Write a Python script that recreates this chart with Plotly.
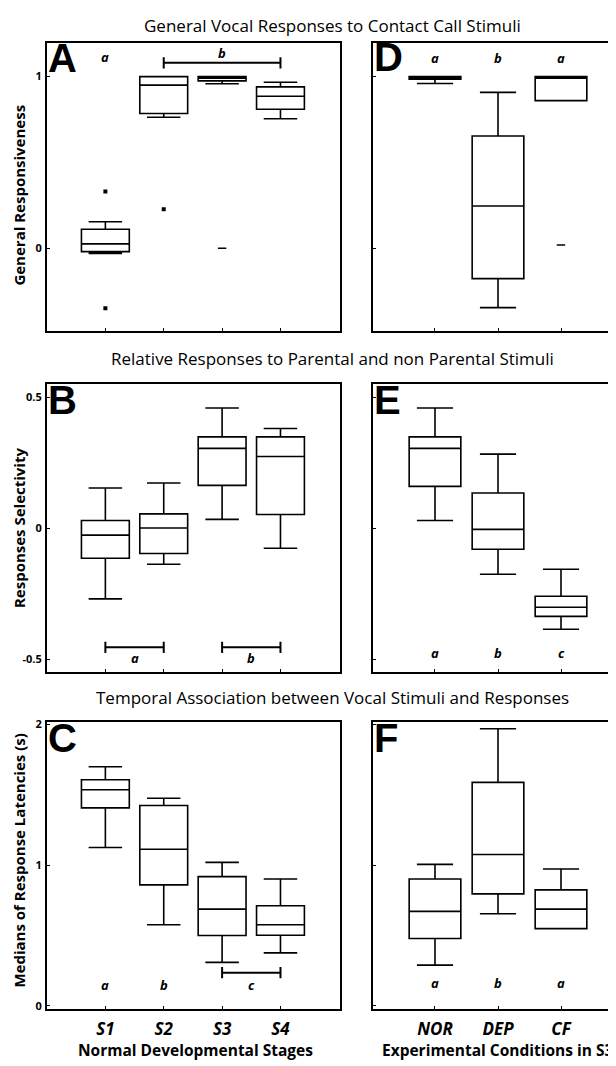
import plotly.graph_objects as go

# ---------------- data ----------------
stages = ["S1", "S2", "S3", "S4"]
conditions = ["NOR", "DEP", "CF"]
stage_pos = [1, 2, 3, 4]
cond_pos = [1, 2, 3]

# Panel A: general responsiveness, developmental stages
A_q1 = [-0.02, 0.785, 0.975, 0.81]
A_med = [0.025, 0.95, 0.99, 0.885]
A_q3 = [0.11, 1.0, 1.0, 0.94]
A_lo = [-0.03, 0.763, 0.958, 0.754]
A_hi = [0.154, 1.0, 1.0, 0.967]
A_out_x = [1, 1, 2]
A_out_y = [0.33, -0.35, 0.227]
A_dash_x = [3]
A_dash_y = [0.0]

# Panel D: general responsiveness, experimental conditions
D_q1 = [0.985, -0.177, 0.86]
D_med = [0.995, 0.246, 0.99]
D_q3 = [1.0, 0.654, 1.0]
D_lo = [0.96, -0.346, 0.86]
D_hi = [1.0, 0.908, 1.0]
D_dash_x = [3]
D_dash_y = [0.019]

# Panel B: response selectivity, developmental stages
B_q1 = [-0.115, -0.097, 0.163, 0.052]
B_med = [-0.027, 0.0, 0.304, 0.273]
B_q3 = [0.029, 0.054, 0.348, 0.348]
B_lo = [-0.27, -0.138, 0.033, -0.077]
B_hi = [0.153, 0.172, 0.458, 0.38]

# Panel E: response selectivity, experimental conditions
E_q1 = [0.159, -0.081, -0.337]
E_med = [0.304, -0.005, -0.302]
E_q3 = [0.348, 0.134, -0.26]
E_lo = [0.029, -0.176, -0.386]
E_hi = [0.458, 0.282, -0.157]

# Panel C: median response latencies, developmental stages
C_q1 = [1.407, 0.859, 0.499, 0.501]
C_med = [1.536, 1.113, 0.687, 0.576]
C_q3 = [1.607, 1.424, 0.918, 0.711]
C_lo = [1.125, 0.576, 0.308, 0.376]
C_hi = [1.699, 1.475, 1.019, 0.901]

# Panel F: median response latencies, experimental conditions
F_q1 = [0.478, 0.795, 0.548]
F_med = [0.671, 1.075, 0.687]
F_q3 = [0.901, 1.588, 0.824]
F_lo = [0.289, 0.654, 0.548]
F_hi = [1.005, 1.969, 0.972]

# significance letters
A_sig = [(1, 1.115, "a"), (3, 1.14, "b")]
D_sig = [(1, 1.11, "a"), (2, 1.11, "b"), (3, 1.11, "a")]
B_sig = [(1.5, -0.495, "a"), (3.5, -0.495, "b")]
E_sig = [(1, -0.477, "a"), (2, -0.477, "b"), (3, -0.477, "c")]
C_sig = [(1, 0.15, "a"), (2, 0.15, "b"), (3.5, 0.15, "c")]
F_sig = [(1, 0.165, "a"), (2, 0.165, "b"), (3, 0.165, "a")]

# brackets (x0, x1, y)
A_brackets = [(2, 4, 1.08)]
B_brackets = [(1, 2, -0.455), (3, 4, -0.455)]
C_brackets = [(3, 4, 0.235)]

titles = [
    "General Vocal Responses to Contact Call Stimuli",
    "Relative Responses to Parental and non Parental Stimuli",
    "Temporal Association between Vocal Stimuli and Responses",
]
ytitles = ["General Responsiveness", "Responses Selectivity",
           "Medians of Response Latencies (s)"]

# ---------------- layout geometry ----------------
# page has an 8px body margin, so the figure is laid out in page pixels
OFF = 8
W, H = 616 - OFF, 1066 - OFF
FONT = "Open Sans"
LETTER_FONT = "Liberation Sans"


def px_x(p):
    return (p - OFF) / W


def px_y(p):
    return 1 - (p - OFF) / H


left_dom = [px_x(47), px_x(340)]
right_dom = [px_x(373), 1.0]
rows = [(38, 328), (382, 672), (722, 1012)]
yranges = [[-0.48, 1.197], [-0.549, 0.549], [-0.026, 2.02]]
ytickvals = [[0, 1], [-0.5, 0, 0.5], [0, 1, 2]]
yticktext = [["0", "1"], ["-0.5", "0", "0.5"], ["0", "1", "2"]]
letters = [("A", "D"), ("B", "E"), ("C", "F")]

fig = go.Figure()

panels = [
    (1, 0, 0, A_q1, A_med, A_q3, A_lo, A_hi, stage_pos),
    (2, 0, 1, D_q1, D_med, D_q3, D_lo, D_hi, cond_pos),
    (3, 1, 0, B_q1, B_med, B_q3, B_lo, B_hi, stage_pos),
    (4, 1, 1, E_q1, E_med, E_q3, E_lo, E_hi, cond_pos),
    (5, 2, 0, C_q1, C_med, C_q3, C_lo, C_hi, stage_pos),
    (6, 2, 1, F_q1, F_med, F_q3, F_lo, F_hi, cond_pos),
]


def axname(i, kind):
    return kind if i == 1 else f"{kind}{i}"


for (i, r, c, q1, med, q3, lo, hi, pos) in panels:
    xa = "x" if i == 1 else f"x{i}"
    ya = "y" if i == 1 else f"y{i}"
    fig.add_trace(go.Box(
        x=pos, q1=q1, median=med, q3=q3, lowerfence=lo, upperfence=hi,
        xaxis=xa, yaxis=ya, width=0.82, whiskerwidth=0.7,
        line=dict(color="black", width=1.6), fillcolor="white",
        boxpoints=False, showlegend=False, hoverinfo="skip",
    ))
    top, bot = rows[r]
    ydom = [px_y(bot), px_y(top)]
    if c == 0:
        xr = [0.0, 5.02]
        xdom = left_dom
    else:
        xr = [0.016, 3.873]
        xdom = right_dom
    is_bottom = (r == 2)
    xaxis = dict(
        domain=xdom, range=xr, anchor=ya, showgrid=False, zeroline=False,
        showline=True, linecolor="black", linewidth=2, mirror=True,
        ticks="inside", ticklen=3, tickwidth=1, tickcolor="black",
        tickvals=pos, ticktext=(stages if c == 0 else conditions),
        showticklabels=is_bottom,
        tickfont=dict(family=FONT, size=17, color="black", weight="bold",
                      style="italic"),
        ticklabelstandoff=3,
    )
    yaxis = dict(
        domain=ydom, range=yranges[r], anchor=xa, showgrid=False,
        zeroline=False, showline=True, linecolor="black", linewidth=2,
        mirror=(c == 0), ticks="inside", ticklen=3, tickwidth=1,
        tickcolor="black", tickvals=ytickvals[r], ticktext=yticktext[r],
        showticklabels=(c == 0),
        tickfont=dict(family=FONT, size=11, color="black", weight="bold"),
        ticklabelstandoff=1,
    )
    fig.layout[axname(i, "xaxis")] = xaxis
    fig.layout[axname(i, "yaxis")] = yaxis

# outliers
fig.add_trace(go.Scatter(x=A_out_x, y=A_out_y, mode="markers", xaxis="x", yaxis="y",
                         marker=dict(symbol="square", size=4, color="black"),
                         showlegend=False, hoverinfo="skip"))
fig.add_trace(go.Scatter(x=A_dash_x, y=A_dash_y, mode="markers", xaxis="x", yaxis="y",
                         marker=dict(symbol="line-ew", size=6,
                                     line=dict(color="black", width=1.5)),
                         showlegend=False, hoverinfo="skip"))
fig.add_trace(go.Scatter(x=D_dash_x, y=D_dash_y, mode="markers", xaxis="x2", yaxis="y2",
                         marker=dict(symbol="line-ew", size=6,
                                     line=dict(color="black", width=1.5)),
                         showlegend=False, hoverinfo="skip"))

# brackets
for brs, xa, ya in [(A_brackets, "x", "y"), (B_brackets, "x3", "y3"),
                    (C_brackets, "x5", "y5")]:
    for (x0, x1, yv) in brs:
        fig.add_trace(go.Scatter(
            x=[x0, x1], y=[yv, yv], mode="lines+markers", xaxis=xa, yaxis=ya,
            line=dict(color="black", width=2),
            marker=dict(symbol="line-ns", size=8,
                        line=dict(color="black", width=2)),
            showlegend=False, hoverinfo="skip"))

annotations = []
# significance letters
for sig, xa, ya in [(A_sig, "x", "y"), (D_sig, "x2", "y2"), (B_sig, "x3", "y3"),
                    (E_sig, "x4", "y4"), (C_sig, "x5", "y5"), (F_sig, "x6", "y6")]:
    for (xv, yv, t) in sig:
        annotations.append(dict(
            x=xv, y=yv, xref=xa, yref=ya, text=t, showarrow=False,
            font=dict(family=FONT, size=13, color="black", weight="bold",
                      style="italic")))

# panel letters (Arial-metric font: small gap above the capitals)
letter_tops = [(30, 29), (375, 375), (715, 715)]
for r, (lt, rt) in enumerate(letters):
    ltop, rtop = letter_tops[r]
    for (lx, ty, t) in [(47, ltop, lt), (373, rtop, rt)]:
        annotations.append(dict(
            x=px_x(lx), y=px_y(ty), xref="paper", yref="paper",
            xanchor="left", yanchor="top", text=t, showarrow=False,
            borderpad=0,
            font=dict(family=LETTER_FONT, size=40, color="black",
                      weight="bold")))

# row titles (first one anchored at the top edge so it is not clipped)
title_specs = [(OFF, "top"), (356, "middle"), (698, "middle")]
for ((yc, anc), t) in zip(title_specs, titles):
    annotations.append(dict(
        x=px_x(332), y=px_y(yc), xref="paper", yref="paper", text=t,
        showarrow=False, xanchor="center", yanchor=anc, borderpad=0,
        font=dict(family=FONT, size=17, color="black")))

# y-axis titles
for (yc, t) in zip([192, 527, 862], ytitles):
    annotations.append(dict(
        x=px_x(19), y=px_y(yc), xref="paper", yref="paper", text=t,
        showarrow=False, textangle=-90, xanchor="center", yanchor="middle",
        font=dict(family=FONT, size=15, color="black", weight="bold")))

# x-axis titles
for (xc, t) in [(195, "Normal Developmental Stages"),
                (497, "Experimental Conditions in S3")]:
    annotations.append(dict(
        x=px_x(xc), y=px_y(1053), xref="paper", yref="paper", text=t,
        showarrow=False, xanchor="center", yanchor="middle",
        font=dict(family=FONT, size=15.5, color="black", weight="bold")))

fig.update_layout(
    width=W, height=H, margin=dict(l=0, r=0, t=0, b=0),
    paper_bgcolor="white", plot_bgcolor="white",
    annotations=annotations, showlegend=False,
    font=dict(family=FONT, color="black"),
)

fig.write_html("out.html")
